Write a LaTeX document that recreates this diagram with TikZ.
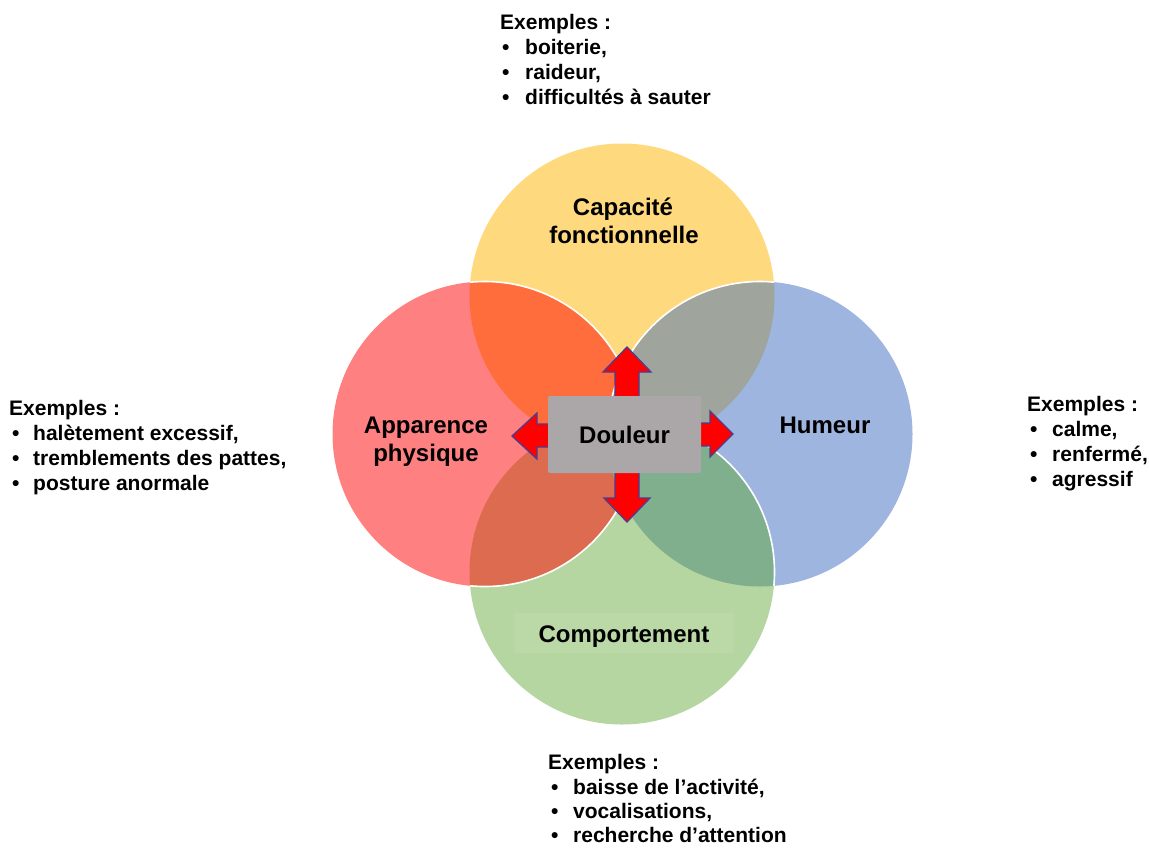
\documentclass[tikz,border=0pt]{standalone}
\usepackage{fontspec}
\setmainfont{Liberation Sans}
\definecolor{cy}{HTML}{FFD97D}
\definecolor{cr}{HTML}{FF8080}
\definecolor{cb}{HTML}{9EB5E0}
\definecolor{cg}{HTML}{B5D5A1}
\definecolor{cyr}{HTML}{FF6D3C}
\definecolor{cyb}{HTML}{9FA59C}
\definecolor{crg}{HTML}{DC6B50}
\definecolor{cbg}{HTML}{80AF8E}
\definecolor{crb}{HTML}{D08A7A}
\definecolor{compbg}{HTML}{BAD9A7}
\definecolor{arrred}{HTML}{FF0000}
\definecolor{arrblue}{HTML}{4B3D8F}
\definecolor{boxgrey}{HTML}{ABA7A8}
\begin{document}
\begin{tikzpicture}[x=1pt,y=-1pt,
  lbl/.style={font=\fontsize{24}{28}\selectfont\bfseries, anchor=base, inner sep=0pt},
  ex/.style={font=\fontsize{21}{24}\selectfont\bfseries, anchor=base west, inner sep=0pt},
  arr/.style={fill=arrred, draw=arrblue, line width=1.3pt, line join=miter},
  rim/.style={draw=white, line width=1.6pt}]
\useasboundingbox (0,0) rectangle (1149,847);
\fill[white] (0,0) rectangle (1149,847);
\coordinate (cY) at (622,296);
\coordinate (cR) at (485,434);
\coordinate (cB) at (760,434);
\coordinate (cG) at (622,572);
% base circles
\fill[cy] (cY) circle[radius=152.5pt];
\fill[cb] (cB) circle[radius=152.5pt];
\fill[cg] (cG) circle[radius=152.5pt];
\fill[cr] (cR) circle[radius=152.5pt];
% overlaps
\begin{scope}\clip (cR) circle[radius=152.5pt]; \fill[crb] (cB) circle[radius=152.5pt];\end{scope}
\begin{scope}\clip (cY) circle[radius=152.5pt]; \fill[cyr] (cR) circle[radius=152.5pt];\end{scope}
\begin{scope}\clip (cY) circle[radius=152.5pt]; \fill[cyb] (cB) circle[radius=152.5pt];\end{scope}
\begin{scope}\clip (cG) circle[radius=152.5pt]; \fill[crg] (cR) circle[radius=152.5pt];\end{scope}
\begin{scope}\clip (cB) circle[radius=152.5pt]; \fill[cbg] (cG) circle[radius=152.5pt];\end{scope}
% white rims
\begin{scope}\clip (cY) circle[radius=152.5pt]; \draw[rim] (cR) circle[radius=152.5pt];\end{scope}
\begin{scope}\clip (cY) circle[radius=152.5pt]; \draw[rim] (cB) circle[radius=152.5pt];\end{scope}
\begin{scope}\clip (cB) circle[radius=152.5pt]; \draw[rim] (cG) circle[radius=152.5pt];\end{scope}
\begin{scope}\clip (cG) circle[radius=152.5pt]; \draw[rim] (cR) circle[radius=152.5pt];\end{scope}
% faint label background
\fill[compbg] (515,613) rectangle (733,653);
% arrows
\draw[arr] (615,435) -- (615,372) -- (603,372) -- (627,347) -- (651,372) -- (639,372) -- (639,435) -- cycle;
\draw[arr] (615,435) -- (615,498) -- (604,498) -- (627,522) -- (650,498) -- (639,498) -- (639,435) -- cycle;
\draw[arr] (627,424) -- (537,424) -- (537,413) -- (512,436) -- (537,459) -- (537,447) -- (627,447) -- cycle;
\draw[arr] (627,423) -- (710,423) -- (710,411) -- (733,434) -- (710,457) -- (710,446) -- (627,446) -- cycle;
% central box
\node[fill=boxgrey, rounded corners=2pt, minimum width=153pt, minimum height=77pt, inner sep=0pt] (box) at (624.5,434.5) {};
\node[lbl] (douleur) at (624.5,443) {Douleur};
% circle labels
\node[lbl] (cap1) at (623,215) {Capacité};
\node[lbl] (cap2) at (624,243) {fonctionnelle};
\node[lbl] (app1) at (426,433) {Apparence};
\node[lbl] (app2) at (426,461) {physique};
\node[lbl] (hum) at (825,433) {Humeur};
\node[lbl] (comp) at (624,642.5) {Comportement};
% top examples
\node[ex] (t0) at (500,29) {Exemples :};
\node[ex] (tb1) at (502,54) {•}; \node[ex] (t1) at (525,54) {boiterie,};
\node[ex] (tb2) at (502,79) {•}; \node[ex] (t2) at (525,79) {raideur,};
\node[ex] (tb3) at (502,104) {•}; \node[ex] (t3) at (525,104) {difficultés à sauter};
% left examples
\node[ex] (l0) at (9,415) {Exemples :};
\node[ex] (lb1) at (12,440) {•}; \node[ex] (l1) at (33,440) {halètement excessif,};
\node[ex] (lb2) at (12,465) {•}; \node[ex] (l2) at (33,465) {tremblements des pattes,};
\node[ex] (lb3) at (12,490) {•}; \node[ex] (l3) at (33,490) {posture anormale};
% right examples
\node[ex] (r0) at (1027,411) {Exemples :};
\node[ex] (rb1) at (1030,436) {•}; \node[ex] (r1) at (1052,436) {calme,};
\node[ex] (rb2) at (1030,461) {•}; \node[ex] (r2) at (1052,461) {renfermé,};
\node[ex] (rb3) at (1030,486) {•}; \node[ex] (r3) at (1052,486) {agressif};
% bottom examples
\node[ex] (b0) at (548,769.5) {Exemples :};
\node[ex] (bb1) at (551,794) {•}; \node[ex] (b1) at (573,794) {baisse de l’activité,};
\node[ex] (bb2) at (551,818.5) {•}; \node[ex] (b2) at (573,818.5) {vocalisations,};
\node[ex] (bb3) at (551,842) {•}; \node[ex] (b3) at (573,842) {recherche d’attention};
\end{tikzpicture}
\end{document}
